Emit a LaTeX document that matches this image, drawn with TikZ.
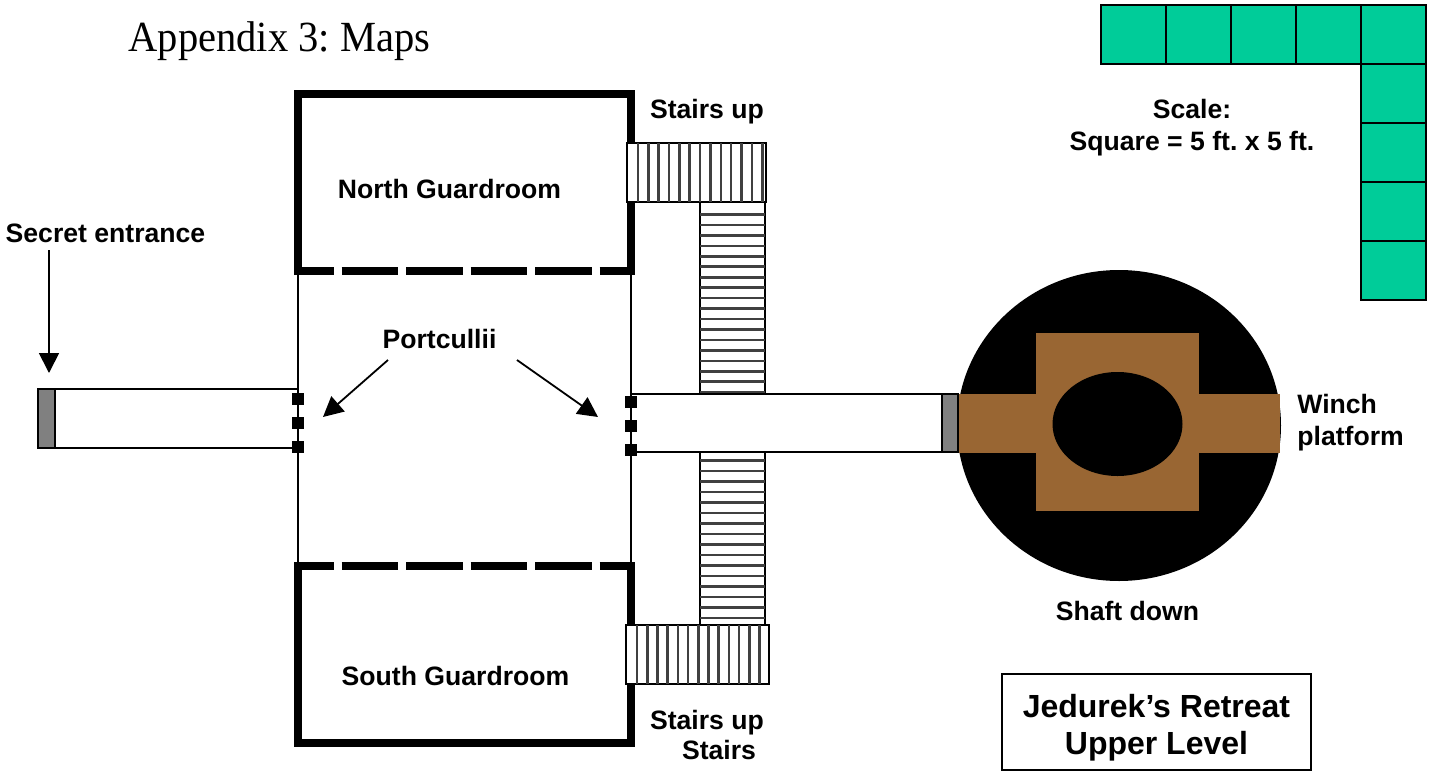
\documentclass[tikz,border=0pt]{standalone}
\usepackage{graphicx}
\usepackage{fontspec}
\setmainfont{Liberation Sans}
\newfontfamily\titlefont{Liberation Serif}
\usetikzlibrary{arrows.meta}
\definecolor{scalegreen}{HTML}{00CC99}
\definecolor{platform}{HTML}{996633}
\definecolor{doorgrey}{HTML}{808080}
\frenchspacing

\begin{document}
\begin{tikzpicture}[
    x=0.5pt, y=-0.5pt,
    % Style for the thin walls and boxes
    wall/.style={draw=black, line width=1pt},
    % Style for the thick guardroom walls
    thick wall/.style={draw=black, line width=3.75pt, miter limit=10},
    door wall/.style={thick wall, dash pattern=on 28.25pt off 4pt, dash phase=8.5pt},
    % Style for the bold labels
    maplabel/.style={font=\bfseries\fontsize{13.3}{15}\selectfont, inner sep=0pt, align=center},
    % Style for the portcullis posts
    post/.style={fill=black, draw=none},
    pointer/.style={line width=0.9pt, -{Triangle[width=10pt,length=10pt]}},
    tread/.style={line width=1.3pt, draw=black!75}
]
    \useasboundingbox (0,0) rectangle (1437,782);

    % --- 1. Scale squares ---
    \foreach \xa/\xb in {1101/1166, 1166/1231, 1231/1296, 1296/1361, 1361/1426}
        \draw[wall, fill=scalegreen] (\xa,5) rectangle (\xb,64);
    \foreach \ya/\yb in {64/123, 123/182, 182/241, 241/300}
        \draw[wall, fill=scalegreen] (1361,\ya) rectangle (1426,\yb);

    % --- 2. Thin walls ---
    \draw[wall] (298,271) -- (298,566);
    \draw[wall] (631,271) -- (631,566);

    % --- 3. Guardrooms ---
    \draw[thick wall] (298,275) -- (298,94) -- (631,94) -- (631,275);
    \draw[door wall] (294,271) -- (635,271);
    \draw[thick wall] (298,562) -- (298,743) -- (631,743) -- (631,562);
    \draw[door wall] (294,566) -- (635,566);

    % --- 4. Stairs ---
    \draw[wall, fill=white] (700,202) rectangle (765,394);
    \foreach \k in {0,...,17}
        \draw[tread] (700,214.5+10.45*\k) -- (765,214.5+10.45*\k);
    \draw[wall, fill=white] (700,452) rectangle (765,625);
    \foreach \k in {0,...,15}
        \draw[tread] (700,460.5+10.5*\k) -- (765,460.5+10.5*\k);

    \draw[wall, fill=white] (627,143) rectangle (766,202);
    \foreach \k in {0,...,12}
        \draw[tread] (638+10.35*\k,143) -- (638+10.35*\k,202);
    \draw[wall, fill=white] (626,625) rectangle (769,684);
    \foreach \k in {0,...,12}
        \draw[tread] (637+10.2*\k,625) -- (637+10.2*\k,684);

    % --- 5. Shaft and winch platform ---
    \fill[black] (1119,425.5) ellipse [x radius=162, y radius=155.5];
    \fill[platform] (1036,333) rectangle (1199,511);
    \fill[platform] (958,394) rectangle (1280,453);
    \fill[black] (1117.5,424) ellipse [x radius=65, y radius=52];

    % --- 6. Corridors ---
    \draw[wall, fill=white] (38,389) rectangle (298,448);
    \draw[wall, fill=doorgrey] (38,389) rectangle (55,448);
    \draw[wall, fill=white] (631,394) rectangle (942,452);
    \draw[wall, fill=doorgrey] (942,394) rectangle (958,452);

    % --- 7. Portcullis posts ---
    \foreach \y in {399,423,447}
        \fill[post] (292,\y-6) rectangle (304,\y+6);
    \foreach \y in {402,426,450}
        \fill[post] (625,\y-6) rectangle (637,\y+6);

    % --- 8. Labels ---
    \node[inner sep=0pt, font=\titlefont\fontsize{21.5}{24}\selectfont] (title) at (279.5,41) {\scalebox{0.942}[1]{Appendix 3: Maps}};
    \node[maplabel] (north) at (449.5,189) {North Guardroom};
    \node[maplabel] (south) at (455.5,676) {South Guardroom};
    \node[maplabel] (secret) at (105.5,233) {Secret entrance};
    \node[maplabel] (portcullii) at (439.5,339) {Portcullii};
    \node[maplabel] (stairsa) at (707,112) {Stairs up};
    \node[maplabel] (stairsb) at (707,723) {Stairs up};
    \node[maplabel] (stairsc) at (719,750) {Stairs};
    \node[maplabel] (scale) at (1192,128) {Scale:\\[1pt]Square = 5 ft. x 5 ft.};
    \node[maplabel, align=left, anchor=west] (winch) at (1297,423) {Winch\\[1pt]platform};
    \node[maplabel] (shaft) at (1127.5,611) {Shaft down};
    \node[wall, minimum width=154.5pt, minimum height=48pt, inner sep=0pt, align=center,
          font=\bfseries\fontsize{16}{18.5}\selectfont] (level) at (1156.5,722) {\rule{0pt}{17pt}Jedurek’s Retreat\\Upper Level};

    % --- 9. Pointers ---
    \coordinate (secret end) at (49,373);
    \coordinate (secret start) at (49,250);
    \coordinate (left start) at (388,360);
    \coordinate (left end) at (323,417);
    \coordinate (right start) at (517,360);
    \coordinate (right end) at (598,417);

    \draw[pointer] (secret start) -- (secret end);
    \draw[pointer] (left start) -- (left end);
    \draw[pointer] (right start) -- (right end);
\end{tikzpicture}
\end{document}
